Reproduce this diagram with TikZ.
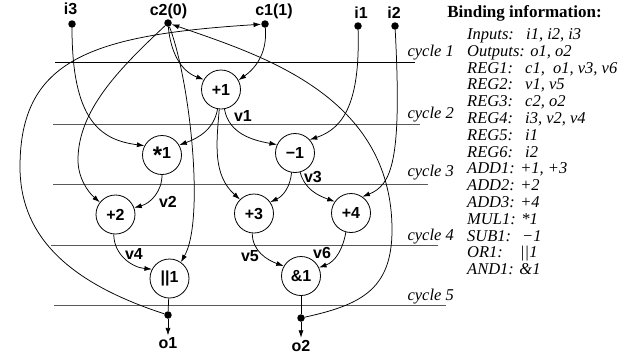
\documentclass[tikz,border=0pt]{standalone}
\usepackage{fontspec}
\setmainfont{Liberation Serif}
\newfontfamily\hvfont{Liberation Sans}
\usetikzlibrary{arrows.meta}
\begin{document}
\begin{tikzpicture}[x=1pt,y=-1pt,
  op/.style={circle,draw,line width=0.8pt,minimum size=39pt,inner sep=0pt,font=\hvfont\bfseries\fontsize{16}{16}\selectfont},
  dot/.style={circle,fill,minimum size=7.5pt,inner sep=0pt},
  lab/.style={font=\hvfont\bfseries\fontsize{16}{16}\selectfont,inner sep=0pt},
  cyc/.style={font=\itshape\fontsize{16.5}{16.5}\selectfont,inner sep=0pt,anchor=base east},
  info/.style={font=\itshape\fontsize{16.5}{16.5}\selectfont,inner sep=0pt,anchor=base west},
  edge/.style={line width=0.75pt},
  arr/.style={edge,-{Latex[length=7.5pt,width=5pt]}},
  cline/.style={line width=0.9pt,black!65}]
\useasboundingbox (0,0) rectangle (635,354);

% cycle lines
\draw[cline,black,line width=0.75pt] (55,62.3) -- (415,62.3);
\draw[cline] (53,124) -- (420,124);
\draw[cline] (53,184) -- (428,184);
\draw[cline] (51,245) -- (438,245);
\draw[cline] (54,305.7) -- (446,305.7);
\node[cyc] (cy1) at (454,56.5) {cycle 1};
\node[cyc] (cy2) at (454,118) {cycle 2};
\node[cyc] (cy3) at (454,176.5) {cycle 3};
\node[cyc] (cy4) at (454,240) {cycle 4};
\node[cyc] (cy5) at (454,300.5) {cycle 5};

% inputs
\node[dot] (i3d) at (72,24) {};
\node[lab] (i3) at (70.5,9) {i3};
\node[dot] (c2d) at (168,23) {};
\node[lab] (c2) at (168.5,11) {c2(0)};
\node[dot] (c1d) at (265,24) {};
\node[lab] (c1) at (274,11) {c1(1)};
\node[dot] (i1d) at (358,26) {};
\node[lab] (i1) at (361,12.5) {i1};
\node[dot] (i2d) at (395,26) {};
\node[lab] (i2) at (394,12.5) {i2};

% operations
\node[op] (p1) at (221,89.5) {+1};
\node[op] (m1) at (162,155) {{\fontsize{24}{24}\selectfont\raisebox{-4.5pt}{*}}1};
\node[op] (n1) at (295,153) {−1};
\node[op] (p2) at (115.5,214.5) {+2};
\node[op] (p3) at (254,213.5) {+3};
\node[op] (p4) at (351,213) {+4};
\node[op] (or1) at (169.5,278.5) {||1};
\node[op] (and1) at (301,276) {\&1};

% outputs
\node[dot] (o1d) at (168,315) {};
\node[lab,outer sep=2pt] (o1) at (168,343) {o1};
\node[dot] (o2d) at (301,318) {};
\node[lab,outer sep=2pt] (o2) at (301,345.5) {o2};

% edge labels
\node[lab] (v1) at (243,116) {v1};
\node[lab] (v2) at (168,201.5) {v2};
\node[lab] (v3) at (313,177) {v3};
\node[lab] (v4) at (134,254) {v4};
\node[lab] (v5) at (250,256.5) {v5};
\node[lab] (v6) at (322,252.5) {v6};

% edges
\draw[arr] (i3d) .. controls (72,120) and (100,140) .. (m1.152);
\draw[arr] (c2d) to[out=-85,in=160] (p1.150);
\draw[arr] (c1d) to[out=-85,in=35] (p1.28);
\draw[arr] (i1d) .. controls (360,100) and (345,128) .. (n1.42);
\draw[arr] (i2d) .. controls (402,160) and (392,185) .. (p4.55);
\draw[arr] (c2d) .. controls (120,68) and (78,110) .. (78,160) .. controls (78,178) and (88,192) .. (p2.142);
\draw[arr] (c2d) .. controls (190,80) and (205,220) .. (or1.55);
\draw[arr] (p1.-100) to[out=-100,in=20] (m1.30);
\draw[arr] (p1.-80) to[out=-80,in=170] (n1.155);
\draw[arr] (p1.-95) to[out=-95,in=138] (p3.135);
\draw[arr] (m1.-90) to[out=-90,in=15] (p2.20);
\draw[arr] (n1.-100) to[out=-95,in=25] (p3.35);
\draw[arr] (n1.-75) to[out=-75,in=160] (p4.145);
\draw[arr] (p2.-95) to[out=-90,in=175] (or1.152);
\draw[arr] (p3.-95) to[out=-90,in=160] (and1.150);
\draw[arr] (p4.-105) to[out=-100,in=20] (and1.25);
\draw[edge] (or1) -- (o1d);
\draw[edge] (and1) -- (o2d);
\draw[arr] (o1d) -- (o1);
\draw[arr] (o2d) -- (o2);
\draw[arr] (o1d) .. controls (60,280) and (20,230) .. (20,167) .. controls (20,60) and (90,35) .. (c1d);
\draw[arr] (o2d) .. controls (360,305) and (392,290) .. (392,230) .. controls (392,95) and (260,55) .. (c2d);

% binding information
\node[font=\bfseries\fontsize{17}{17}\selectfont,inner sep=0pt] (title) at (524.5,13) {Binding information:};
\node[info] (b0) at (467,39.5) {\makebox[59pt][l]{Inputs:}i1, i2, i3};
\node[info] (b1) at (467,56.3) {Outputs: o1, o2};
\node[info] (b2) at (467,73.1) {\makebox[58pt][l]{REG1:}c1,\ \ o1, v3, v6};
\node[info] (b3) at (467,89.9) {\makebox[58pt][l]{REG2:}v1, v5};
\node[info] (b4) at (467,106.7) {\makebox[58pt][l]{REG3:}c2, o2};
\node[info] (b5) at (467,123.5) {\makebox[58pt][l]{REG4:}i3, v2, v4};
\node[info] (b6) at (467,140.3) {\makebox[58pt][l]{REG5:}i1};
\node[info] (b7) at (467,157.1) {\makebox[58pt][l]{REG6:}i2};
\node[info] (b8) at (467,173.9) {ADD1: +1, +3};
\node[info] (b9) at (467,190.7) {ADD2: +2};
\node[info] (b10) at (467,207.5) {ADD3: +4};
\node[info] (b11) at (467,224.3) {MUL1: *1};
\node[info] (b12) at (467,241.1) {\makebox[55pt][l]{SUB1:}−1};
\node[info] (b13) at (467,257.9) {\makebox[53pt][l]{OR1:}||1};
\node[info] (b14) at (467,274.7) {AND1: \&1};
\end{tikzpicture}
\end{document}
